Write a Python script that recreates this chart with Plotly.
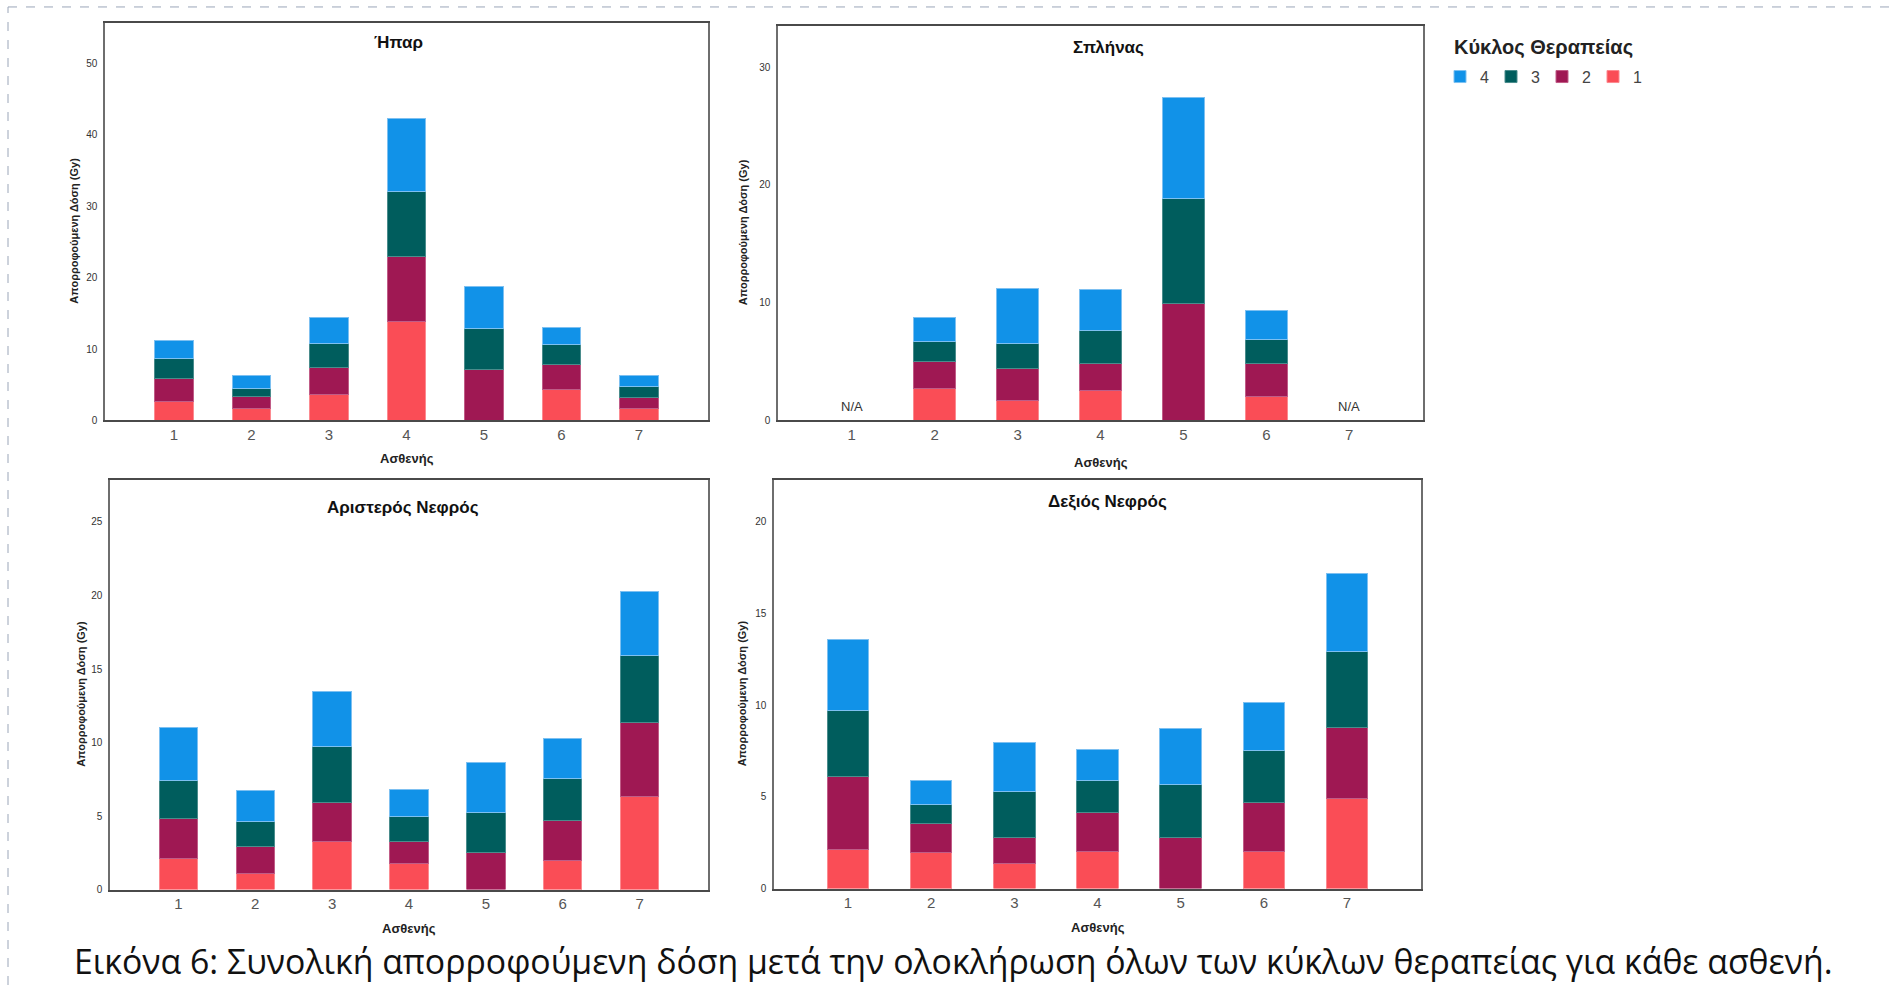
import plotly.graph_objects as go

# ---------------- data ----------------
patients = ["1", "2", "3", "4", "5", "6", "7"]
cycles = ["1", "2", "3", "4"]

# Ήπαρ (liver) – dose per cycle
liver_c1 = [2.7, 1.7, 3.6, 13.8, None, 4.3, 1.7]
liver_c2 = [3.2, 1.6, 3.8, 9.2, 7.2, 3.6, 1.5]
liver_c3 = [2.8, 1.2, 3.4, 9.1, 5.7, 2.8, 1.6]
liver_c4 = [2.5, 1.75, 3.6, 10.25, 5.9, 2.3, 1.5]

# Σπλήνας (spleen)
spleen_c1 = [None, 2.7, 1.7, 2.5, None, 2.0, None]
spleen_c2 = [None, 2.3, 2.7, 2.3, 9.95, 2.85, None]
spleen_c3 = [None, 1.7, 2.1, 2.85, 8.9, 2.05, None]
spleen_c4 = [None, 2.0, 4.7, 3.45, 8.55, 2.45, None]
spleen_na = ["1", "7"]

# Αριστερός Νεφρός (left kidney)
lkid_c1 = [2.1, 1.1, 3.3, 1.75, None, 2.0, 6.35]
lkid_c2 = [2.75, 1.8, 2.6, 1.55, 2.55, 2.7, 5.0]
lkid_c3 = [2.6, 1.75, 3.8, 1.7, 2.7, 2.85, 4.6]
lkid_c4 = [3.6, 2.1, 3.75, 1.8, 3.4, 2.7, 4.3]

# Δεξιός Νεφρός (right kidney)
rkid_c1 = [2.15, 1.95, 1.35, 2.0, None, 2.0, 4.9]
rkid_c2 = [3.95, 1.6, 1.45, 2.15, 2.8, 2.7, 3.9]
rkid_c3 = [3.6, 1.05, 2.5, 1.75, 2.85, 2.8, 4.1]
rkid_c4 = [3.9, 1.3, 2.65, 1.7, 3.1, 2.65, 4.25]

panel_titles = ["Ήπαρ", "Σπλήνας", "Αριστερός Νεφρός", "Δεξιός Νεφρός"]
y_title = "Απορροφούμενη Δόση (Gy)"
x_title = "Ασθενής"
legend_title = "Κύκλος Θεραπείας"
caption = "Εικόνα 6: Συνολική απορροφούμενη δόση μετά την ολοκλήρωση όλων των κύκλων θεραπείας για κάθε ασθενή."

panels = [
    [liver_c1, liver_c2, liver_c3, liver_c4],
    [spleen_c1, spleen_c2, spleen_c3, spleen_c4],
    [lkid_c1, lkid_c2, lkid_c3, lkid_c4],
    [rkid_c1, rkid_c2, rkid_c3, rkid_c4],
]
y_ranges = [[0, 55.7], [0, 33.5], [0, 27.85], [0, 22.26]]
y_ticks = [[0, 10, 20, 30, 40, 50], [0, 10, 20, 30], [0, 5, 10, 15, 20, 25], [0, 5, 10, 15, 20]]

# ---------------- styling ----------------
W, H = 1895, 991


def px(xp):
    return xp / W


def py(yp):
    return 1 - yp / H


fill = {"1": "#FA4D56", "2": "#9F1853", "3": "#005D5D", "4": "#1192E8"}
edge = {"1": "#FC8A90", "2": "#C05C87", "3": "#4A8C8C", "4": "#7DC0F1"}

# plot-box page-pixel rectangles (left, top, right, bottom)
boxes = [(105, 23, 708, 423), (778, 26, 1423, 423), (110, 483, 708, 895), (774, 483, 1421, 894)]
title_pos = [(-8, 20), (8, 22), (-6, 27), (10, 21)]   # (x shift, distance below top)
ytitle_off = [31, 35, 29, 32]
xtitle_off = [38, 42, 39, 39]

narrow = "Liberation Sans Narrow, Arial Narrow, Liberation Sans, Arial, sans-serif"
sans = "Liberation Sans, Arial, sans-serif"

fig = go.Figure()
annotations = []
layout_axes = {}

for i, (vals, (l, t, r, b)) in enumerate(zip(panels, boxes)):
    n = i + 1
    xa = "x" if n == 1 else f"x{n}"
    ya = "y" if n == 1 else f"y{n}"
    for cyc, v in zip(cycles, vals):
        fig.add_trace(go.Bar(
            x=patients, y=v, name=cyc, width=0.5,
            marker=dict(color=fill[cyc], line=dict(color=edge[cyc], width=1)),
            legendgroup=cyc, showlegend=(n == 1),
            xaxis=xa, yaxis=ya,
        ))
    xkey = "xaxis" if n == 1 else f"xaxis{n}"
    ykey = "yaxis" if n == 1 else f"yaxis{n}"
    layout_axes[xkey] = dict(
        domain=[px(l), px(r)], anchor=ya, type="category",
        range=[-0.89, 6.89], showline=True, mirror=True, linecolor="#4a4a4a", linewidth=1.5,
        showgrid=False, zeroline=False, ticks="",
        tickfont=dict(family=narrow, size=15, color="#555"),
    )
    layout_axes[ykey] = dict(
        domain=[py(b), py(t)], anchor=xa, range=y_ranges[i],
        tickvals=y_ticks[i], showline=True, mirror=True, linecolor="#6e6e6e", linewidth=1.5,
        showgrid=False, zeroline=False, ticks="", ticklabelstandoff=4,
        tickfont=dict(family=narrow, size=10, color="#333"),
    )
    dx = f"{xa} domain"
    dy = f"{ya} domain"
    annotations.append(dict(
        text=f"<b>{panel_titles[i]}</b>", xref=dx, yref=dy, x=0.5, y=1,
        xshift=title_pos[i][0], yshift=-title_pos[i][1], yanchor="middle", showarrow=False,
        font=dict(family=sans, size=17, color="#111"),
    ))
    annotations.append(dict(
        text=f"<b>{x_title}</b>", xref=dx, yref=dy, x=0.5, y=0, yshift=-xtitle_off[i],
        yanchor="middle", showarrow=False, font=dict(family=narrow, size=13, color="#222"),
    ))
    annotations.append(dict(
        text=f"<b>{y_title}</b>", xref=dx, yref=dy, x=0, y=0.5, xshift=-ytitle_off[i], yshift=-9,
        textangle=-90, xanchor="center", yanchor="middle", showarrow=False,
        font=dict(family=sans, size=11, color="#222"),
    ))

# N/A markers in the spleen panel (category index positions)
for cat in spleen_na:
    annotations.append(dict(
        text="N/A", xref="x2", yref="y2 domain", x=patients.index(cat), y=0, yshift=14,
        yanchor="middle", showarrow=False, font=dict(family=narrow, size=13, color="#333"),
    ))

# legend title
annotations.append(dict(
    text="<b>" + legend_title + "</b>", xref="paper", yref="paper", x=px(1452), y=py(47),
    xanchor="left", yanchor="middle", showarrow=False,
    font=dict(family=sans, size=20, color="#222"),
))

# caption
annotations.append(dict(
    text=caption, xref="paper", yref="paper", x=px(953), y=py(967),
    xanchor="center", yanchor="middle", showarrow=False,
    font=dict(family="Open Sans, Lato, sans-serif", size=33.8, color="#111"),
))

shapes = [
    dict(type="line", xref="paper", yref="paper", x0=px(8), x1=1, y0=py(7), y1=py(7),
         line=dict(color="#9aa5b8", width=1, dash="dash")),
    dict(type="line", xref="paper", yref="paper", x0=px(8), x1=px(8), y0=0, y1=py(7),
         line=dict(color="#9aa5b8", width=1, dash="dash")),
]

fig.update_layout(
    width=W, height=H, margin=dict(l=0, r=0, t=0, b=0),
    paper_bgcolor="white", plot_bgcolor="white",
    barmode="stack",
    annotations=annotations, shapes=shapes,
    legend=dict(
        orientation="h", x=px(1440), y=py(60), xanchor="left", yanchor="top",
        traceorder="reversed",
        font=dict(family=sans, size=16, color="#444"),
        entrywidth=6, entrywidthmode="pixels", itemclick=False,
    ),
    **layout_axes,
)

# remove the browser's default 8px body margin so the figure fills the window exactly
fig.write_html(
    "out.html",
    config={"displayModeBar": False},
    post_script="document.body.style.margin='0';document.body.style.overflow='hidden';",
)
